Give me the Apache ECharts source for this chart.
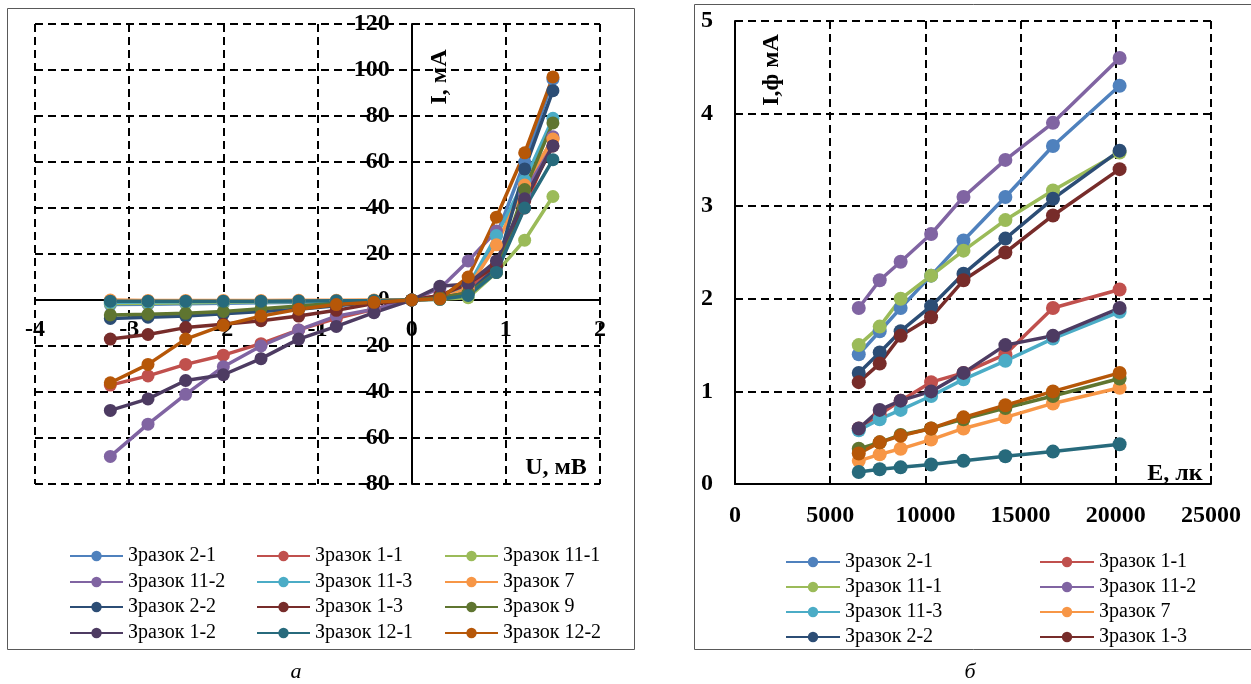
<!DOCTYPE html>
<html>
<head>
<meta charset="utf-8">
<script src="https://cdn.jsdelivr.net/npm/echarts@6.0.0/dist/echarts.min.js"></script>
<style>
    html, body { margin: 0; padding: 0; background: #fff; }
    #main { width: 1251px; height: 684px; }
</style>
</head>
<body>
<div id="main"></div>
<script>
    // назви зразків (порядок як у легенді)
    var names = ['Зразок 2-1', 'Зразок 1-1', 'Зразок 11-1', 'Зразок 11-2', 'Зразок 11-3', 'Зразок 7',
                 'Зразок 2-2', 'Зразок 1-3', 'Зразок 9', 'Зразок 1-2', 'Зразок 12-1', 'Зразок 12-2'];
    var colors = ['#4F81BD', '#C0504D', '#9BBB59', '#8064A2', '#4BACC6', '#F79646',
                  '#2C4D75', '#772C2A', '#5F7530', '#4D3B62', '#276A7C', '#B65708'];

    // а) ВАХ: U, мВ -> I, мА
    var uVals = [-3.2, -2.8, -2.4, -2.0, -1.6, -1.2, -0.8, -0.4, 0, 0.3, 0.6, 0.9, 1.2, 1.5];
    var iv_2_1  = [-2, -1.8, -1.6, -1.4, -1.2, -1, -0.7, -0.4, 0, 0.5, 3, 28, 60, 96];
    var iv_1_1  = [-37, -33, -28, -24, -19, -13, -8, -4, 0, 2, 5, 15, 40, 70];
    var iv_11_1 = [-1.5, -1.4, -1.2, -1, -0.8, -0.6, -0.4, -0.2, 0, 0.3, 1, 12, 26, 45];
    var iv_11_2 = [-68, -54, -41, -29, -20, -13, -7, -4, 0, 5, 17, 30, 46, 71];
    var iv_11_3 = [-1, -0.9, -0.8, -0.7, -0.6, -0.5, -0.3, -0.2, 0, 0.5, 6, 28, 52, 79];
    var iv_7    = [0, -0.2, -0.2, -0.2, -0.2, -0.1, -0.1, 0, 0, 0.5, 5, 24, 50, 70];
    var iv_2_2  = [-8, -7.5, -7, -6, -5, -4, -2.5, -1, 0, 1, 3, 14, 57, 91];
    var iv_1_3  = [-17, -15, -12, -10.5, -9, -7, -4.5, -1.5, 0, 2, 7, 15, 43, 67];
    var iv_9    = [-6.5, -6.2, -5.8, -5, -3.8, -2.6, -1.4, -0.7, 0, 1, 3, 12, 48, 77];
    var iv_1_2  = [-48, -43, -35, -32.5, -25.5, -17, -11.5, -5.5, 0, 6, 7, 17, 44, 67];
    var iv_12_1 = [-0.5, -0.5, -0.5, -0.5, -0.5, -0.4, -0.3, -0.2, 0, 0.3, 2, 12, 40, 61];
    var iv_12_2 = [-36, -28, -17, -11, -7, -4, -2, -1, 0, 0.5, 10, 36, 64, 97];
    var ivAll = [iv_2_1, iv_1_1, iv_11_1, iv_11_2, iv_11_3, iv_7, iv_2_2, iv_1_3, iv_9, iv_1_2, iv_12_1, iv_12_2];

    // б) фотострум: E, лк -> I,ф мА
    var eVals = [6500, 7600, 8700, 10300, 12000, 14200, 16700, 20200];
    var ph_2_1  = [1.4, 1.65, 1.9, 2.25, 2.63, 3.1, 3.65, 4.3];
    var ph_1_1  = [0.6, 0.75, 0.9, 1.1, 1.2, 1.4, 1.9, 2.1];
    var ph_11_1 = [1.5, 1.7, 2.0, 2.25, 2.52, 2.85, 3.17, 3.58];
    var ph_11_2 = [1.9, 2.2, 2.4, 2.7, 3.1, 3.5, 3.9, 4.6];
    var ph_11_3 = [0.58, 0.7, 0.8, 0.95, 1.13, 1.33, 1.57, 1.86];
    var ph_7    = [0.25, 0.32, 0.38, 0.48, 0.6, 0.72, 0.87, 1.04];
    var ph_2_2  = [1.2, 1.42, 1.65, 1.92, 2.27, 2.65, 3.08, 3.6];
    var ph_1_3  = [1.1, 1.3, 1.6, 1.8, 2.2, 2.5, 2.9, 3.4];
    var ph_9    = [0.38, 0.45, 0.53, 0.6, 0.7, 0.82, 0.95, 1.14];
    var ph_1_2  = [0.6, 0.8, 0.9, 1.0, 1.2, 1.5, 1.6, 1.9];
    var ph_12_1 = [0.13, 0.16, 0.18, 0.21, 0.25, 0.3, 0.35, 0.43];
    var ph_12_2 = [0.33, 0.45, 0.52, 0.6, 0.72, 0.85, 1.0, 1.2];
    var phAll = [ph_2_1, ph_1_1, ph_11_1, ph_11_2, ph_11_3, ph_7, ph_2_2, ph_1_3, ph_9, ph_1_2, ph_12_1, ph_12_2];

    var serif = '"Liberation Serif", "Times New Roman", serif';
    var labelStyle = { color: '#000', fontFamily: serif, fontWeight: 'bold', fontSize: 24 };
    var gridDash = { show: true, lineStyle: { color: '#000', type: [8, 5], width: 2 } };
    var axisSolid = { show: true, onZero: false, lineStyle: { color: '#000', width: 2 } };

    // ліва сітка: 565 x 460 px, нулі осей лежать усередині
    var gA = { left: 35, top: 24, width: 565, height: 460 };
    var xZeroShift = gA.width * 4 / 6;      // від лівого краю до U = 0
    var yZeroShift = gA.height * 80 / 200;  // від нижнього краю до I = 0

    function pairs(xs, ys) {
        var out = [];
        for (var k = 0; k < xs.length; k++) out.push([xs[k], ys[k]]);
        return out;
    }

    var series = [];
    for (var i = 0; i < names.length; i++) {
        series.push({
            name: names[i], type: 'line', xAxisIndex: 0, yAxisIndex: 0,
            data: pairs(uVals, ivAll[i]),
            symbol: 'circle', symbolSize: 13,
            lineStyle: { width: 3.5, color: colors[i] },
            itemStyle: { color: colors[i] },
            emphasis: { disabled: true }
        });
    }
    for (i = 0; i < names.length; i++) {
        series.push({
            name: names[i], type: 'line', xAxisIndex: 1, yAxisIndex: 1,
            data: pairs(eVals, phAll[i]),
            symbol: 'circle', symbolSize: 14,
            lineStyle: { width: 3.5, color: colors[i] },
            itemStyle: { color: colors[i] },
            emphasis: { disabled: true }
        });
    }

    // легенди: по одному елементу, щоб точно стати в колонки
    var legends = [];
    var leftCols = [69, 256, 444], leftRows = [556, 582, 607, 633];
    for (i = 0; i < 12; i++) {
        legends.push({
            data: [names[i]], left: leftCols[i % 3], top: leftRows[Math.floor(i / 3)] - 10,
            padding: 0, itemWidth: 53, itemHeight: 13, selectedMode: false,
            textStyle: { color: '#000', fontFamily: serif, fontSize: 20 }
        });
    }
    var rightCols = [785, 1039], rightRows = [562, 587, 612, 637];
    for (i = 0; i < 8; i++) {
        legends.push({
            data: [names[i]], left: rightCols[i % 2], top: rightRows[Math.floor(i / 2)] - 10,
            padding: 0, itemWidth: 54, itemHeight: 13, selectedMode: false,
            textStyle: { color: '#000', fontFamily: serif, fontSize: 20 }
        });
    }

    function txt(x, y, s, rot, font) {
        return {
            type: 'text', x: x, y: y, rotation: rot || 0, silent: true,
            style: { text: s, fill: '#000', font: font || ('bold 24px ' + serif),
                     textAlign: 'center', textVerticalAlign: 'middle', align: 'center', verticalAlign: 'middle' }
        };
    }

    var option = {
        animation: false,
        backgroundColor: '#fff',
        grid: [
            Object.assign({ containLabel: false, outerBoundsMode: 'none' }, gA),
            { left: 735, top: 21, width: 476, height: 463, containLabel: false, outerBoundsMode: 'none' }
        ],
        xAxis: [
            {
                type: 'value', gridIndex: 0, min: -4, max: 2, interval: 1,
                position: 'bottom', offset: -yZeroShift,
                axisLine: axisSolid,
                axisTick: { show: false },
                axisLabel: Object.assign({ margin: 18 }, labelStyle),
                splitLine: gridDash
            },
            {
                type: 'value', gridIndex: 1, min: 0, max: 25000, interval: 5000,
                axisLine: axisSolid,
                axisTick: { show: false },
                axisLabel: Object.assign({ margin: 20, formatter: function (v) { return String(v); } }, labelStyle),
                splitLine: gridDash
            }
        ],
        yAxis: [
            {
                type: 'value', gridIndex: 0, min: -80, max: 120, interval: 20,
                position: 'left', offset: -xZeroShift,
                axisLine: axisSolid,
                axisTick: { show: false },
                axisLabel: Object.assign({ margin: 22 }, labelStyle),
                splitLine: gridDash
            },
            {
                type: 'value', gridIndex: 1, min: 0, max: 5, interval: 1,
                axisLine: axisSolid,
                axisTick: { show: false },
                axisLabel: Object.assign({ margin: 22 }, labelStyle),
                splitLine: gridDash
            }
        ],
        legend: legends,
        graphic: [
            { type: 'rect', silent: true, shape: { x: 7.5, y: 8.5, width: 627, height: 641 },
              style: { fill: 'none', stroke: '#595959', lineWidth: 1 } },
            { type: 'rect', silent: true, shape: { x: 694.5, y: 4.5, width: 620, height: 645 },
              style: { fill: 'none', stroke: '#595959', lineWidth: 1 } },
            txt(440, 77, 'I, мА', Math.PI / 2),
            txt(556, 468, 'U, мВ'),
            txt(772, 70, 'I,ф мА', Math.PI / 2),
            txt(1175, 474, 'Е, лк'),
            txt(296, 672, 'а', 0, 'italic 22px ' + serif),
            txt(970, 672, 'б', 0, 'italic 22px ' + serif)
        ],
        series: series
    };

    var chart = echarts.init(document.getElementById('main'));
    chart.setOption(option);
</script>
</body>
</html>
